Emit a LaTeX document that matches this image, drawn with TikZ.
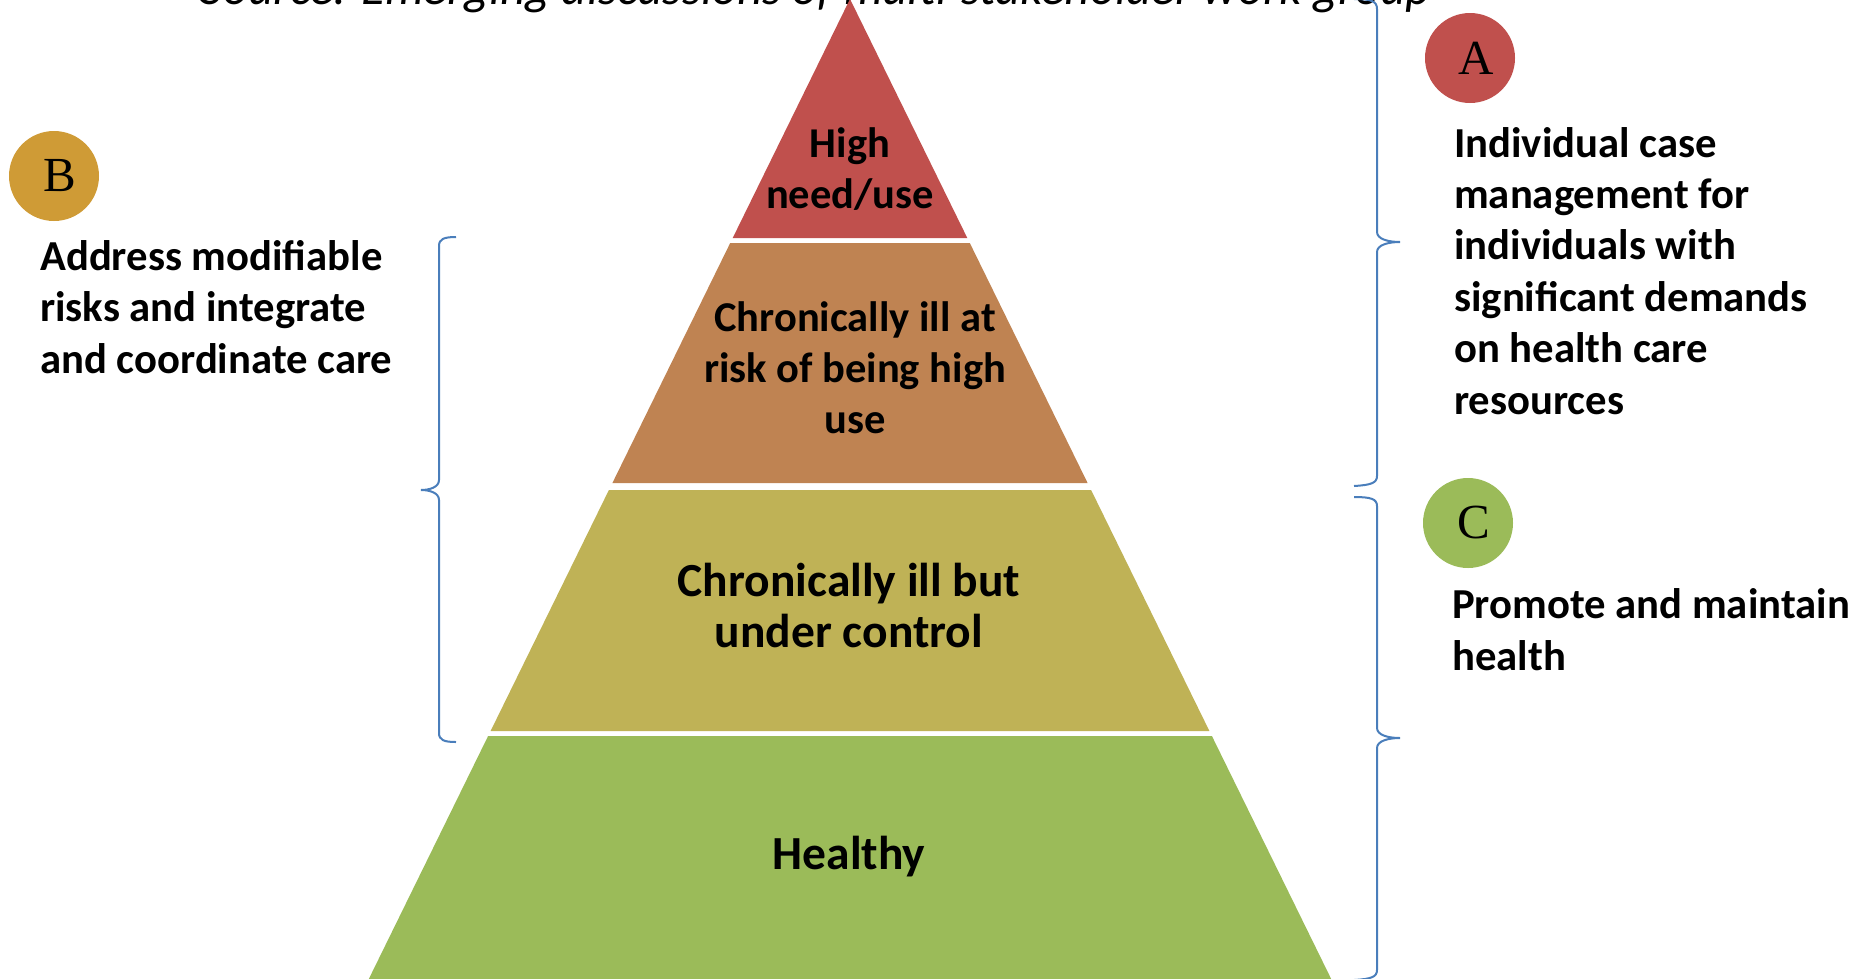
\documentclass[tikz,border=0pt]{standalone}
\usepackage{fontspec}
\setmainfont{Carlito}
\newfontfamily\badgefont{Liberation Serif}
\definecolor{cRed}{HTML}{C0504D}
\definecolor{cBrown}{HTML}{BF8352}
\definecolor{cOlive}{HTML}{BFB256}
\definecolor{cGreen}{HTML}{9BBB59}
\definecolor{cGold}{HTML}{CF9B36}
\definecolor{cBrace}{HTML}{4A7EBB}
\tikzset{
  lbl/.style={font=\bfseries\fontsize{42.5}{51}\selectfont, align=center, inner sep=0pt, anchor=base},
  lblbig/.style={font=\bfseries\fontsize{47.5}{50.5}\selectfont, align=center, inner sep=0pt, anchor=base},
  side/.style={font=\bfseries\fontsize{42.7}{51.4}\selectfont, align=left, inner sep=0pt, anchor=base west},
  badge/.style={circle, minimum size=90pt, inner sep=0pt},
  badgeletter/.style={inner sep=0pt, font=\badgefont\fontsize{49}{49}\selectfont},
  bracestyle/.style={draw=cBrace, line width=2pt}
}
\begin{document}
\begin{tikzpicture}[x=1pt,y=-1pt]
\useasboundingbox (0,0) rectangle (1873,978);
% source line, clipped by page top
\node[anchor=base, inner sep=0pt, font=\itshape\fontsize{49}{55}\selectfont] (src) at (816,4) {Source: Emerging discussions of multi-stakeholder work group};
% pyramid layers
\fill[cRed] (850,-1) -- (967.3,238) -- (732.7,238) -- cycle;
\fill[cBrown] (730.2,243) -- (969.8,243) -- (1087.6,483) -- (612.4,483) -- cycle;
\fill[cOlive] (608.9,490) -- (1091.1,490) -- (1209.4,731) -- (490.6,731) -- cycle;
\fill[cGreen] (488.1,736) -- (1211.9,736) -- (1331.7,980) -- (368.3,980) -- cycle;
% layer labels (anchor = baseline of last line)
\node[lbl] (high) at (850,208) {High\\need/use};
\node[lbl] (risk) at (855,433) {Chronically ill at\\risk of being high\\use};
\node[lblbig] (ctrl) at (849,647) {Chronically ill but\\under control};
\node[lblbig] (healthy) at (849,869) {Healthy};
% badges
\node[badge, fill=cRed] (bA) at (1470,58) {};
\node[badgeletter] (lA) at ([xshift=6pt]bA.center) {A};
\node[badge, fill=cGold] (bB) at (54,176) {};
\node[badgeletter] (lB) at ([xshift=6pt]bB.center) {B};
\node[badge, fill=cGreen] (bC) at (1468,523) {};
\node[badgeletter] (lC) at ([xshift=6pt]bC.center) {C};
% side texts (anchor = baseline of last line)
\node[side] (tA) at (1454,414) {Individual case\\management for\\individuals with\\significant demands\\on health care\\resources};
\node[side] (tB) at (40,373) {Address modifiable\\risks and integrate\\and coordinate care};
\node[side] (tC) at (1452,670) {Promote and maintain\\health};
% braces
\draw[bracestyle] (1354,-1) .. controls (1371,-1) and (1377,1) .. (1377,9) -- (1377,232) .. controls (1377,239) and (1388,242) .. (1400,242) .. controls (1388,242) and (1377,245) .. (1377,252) -- (1377,476) .. controls (1377,483) and (1371,485) .. (1354,486);
\draw[bracestyle] (1354,497) .. controls (1371,497) and (1377,499) .. (1377,506) -- (1377,728) .. controls (1377,735) and (1388,738) .. (1400,738) .. controls (1388,738) and (1377,741) .. (1377,748) -- (1377,970) .. controls (1377,977) and (1371,979) .. (1354,980);
\draw[bracestyle] (456,237) .. controls (444,237) and (439,239) .. (439,246) -- (439,480) .. controls (439,487) and (430,490) .. (421,490) .. controls (430,490) and (439,493) .. (439,500) -- (439,733) .. controls (439,740) and (444,742) .. (456,742);
\end{tikzpicture}
\end{document}
